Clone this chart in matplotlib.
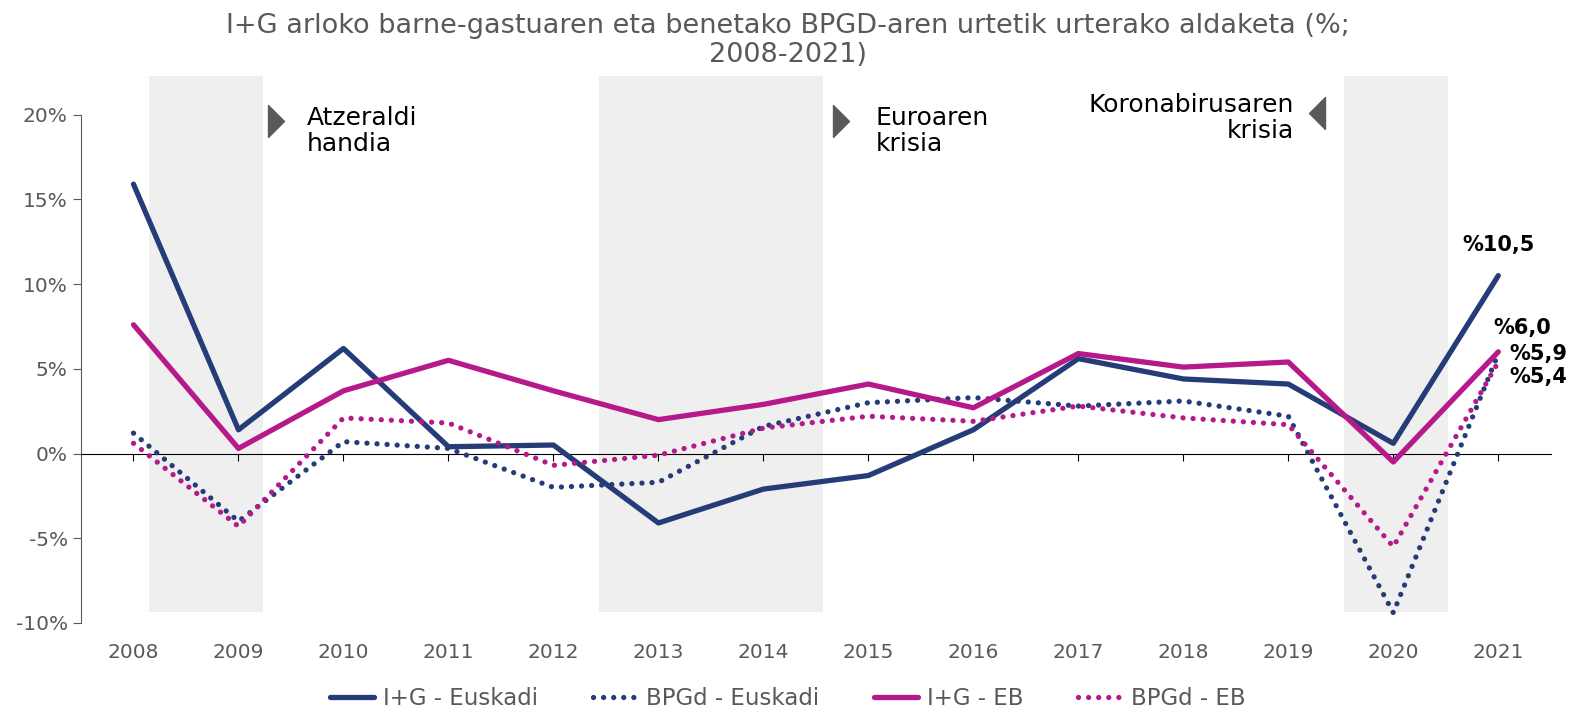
import matplotlib.pyplot as plt
from matplotlib.patches import Rectangle

years = ["2008", "2009", "2010", "2011", "2012", "2013", "2014",
         "2015", "2016", "2017", "2018", "2019", "2020", "2021"]
ig_euskadi = [15.9, 1.4, 6.2, 0.4, 0.5, -4.1, -2.1, -1.3, 1.4, 5.6, 4.4, 4.1, 0.6, 10.5]
bpgd_euskadi = [1.2, -4.0, 0.7, 0.3, -2.0, -1.7, 1.6, 3.0, 3.3, 2.8, 3.1, 2.2, -9.4, 5.9]
ig_eb = [7.6, 0.3, 3.7, 5.5, 3.7, 2.0, 2.9, 4.1, 2.7, 5.9, 5.1, 5.4, -0.5, 6.0]
bpgd_eb = [0.6, -4.3, 2.1, 1.8, -0.7, -0.1, 1.5, 2.2, 1.9, 2.8, 2.1, 1.7, -5.5, 5.4]

# crisis periods (in category positions)
bands = [(0.15, 1.23), (4.43, 6.57), (11.53, 12.52)]

navy = "#253C78"
magenta = "#B5198A"
grey = "#595959"

fig = plt.figure(figsize=(15.76, 7.16), dpi=100)
ax = fig.add_axes([0.0514, 0.130, 0.9326, 0.769])

x = list(range(len(years)))
for x0, x1 in bands:
    ax.add_patch(Rectangle((x0, -9.35), x1 - x0, 9.35 + 22.3, color="#EFEFEF", zorder=0, lw=0))

dots = (0, (0.01, 1.9))
ax.plot(x, ig_euskadi, color=navy, lw=3.8, solid_capstyle="round", label="I+G - Euskadi", zorder=3)
ax.plot(x, bpgd_euskadi, color=navy, lw=3.8, linestyle=dots, dash_capstyle="round", label="BPGd - Euskadi", zorder=3)
ax.plot(x, ig_eb, color=magenta, lw=3.8, solid_capstyle="round", label="I+G - EB", zorder=3)
ax.plot(x, bpgd_eb, color=magenta, lw=3.8, linestyle=dots, dash_capstyle="round", label="BPGd - EB", zorder=3)

ax.set_xlim(-0.5, 13.5)
ax.set_ylim(-10, 22.5)
ax.set_yticks([-10, -5, 0, 5, 10, 15, 20])
ax.set_yticklabels(["-10%", "-5%", "0%", "5%", "10%", "15%", "20%"])
ax.spines["left"].set_bounds(-10, 20)
ax.spines["left"].set_color(grey)
ax.spines["top"].set_visible(False)
ax.spines["right"].set_visible(False)
ax.spines["bottom"].set_position(("data", 0))
ax.spines["bottom"].set_color("black")
ax.set_xticks(x)
ax.set_xticklabels([])
ax.tick_params(axis="x", direction="out", length=5, color="black")
ax.tick_params(axis="y", direction="out", length=6, color=grey, labelcolor=grey, labelsize=14.5)
for xi, yr in zip(x, years):
    ax.text(xi, -11.2, yr, ha="center", va="top", fontsize=14.5, color=grey)

# crisis annotations
right_tri = [(-0.5, -1), (0.5, 0), (-0.5, 1), (-0.5, -1)]
left_tri = [(0.5, -1), (-0.5, 0), (0.5, 1), (0.5, -1)]
ax.plot([1.36], [19.6], marker=right_tri, markersize=23, color=grey, clip_on=False)
ax.text(1.65, 20.5, "Atzeraldi\nhandia", ha="left", va="top", fontsize=18, color="black", linespacing=1.1)
ax.plot([6.74], [19.6], marker=right_tri, markersize=23, color=grey, clip_on=False)
ax.text(7.07, 20.5, "Euroaren\nkrisia", ha="left", va="top", fontsize=18, color="black", linespacing=1.1)
ax.plot([11.27], [20.1], marker=left_tri, markersize=23, color=grey, clip_on=False)
ax.text(11.05, 21.3, "Koronabirusaren\nkrisia", ha="right", va="top", fontsize=18, color="black",
        linespacing=1.1, multialignment="right")

# end labels
ax.text(13.0, 11.7, "%10,5", ha="center", va="bottom", fontsize=15, fontweight="bold")
ax.text(13.5, 7.4, "%6,0", ha="right", va="center", fontsize=15, fontweight="bold")
ax.text(13.66, 5.9, "%5,9", ha="right", va="center", fontsize=15, fontweight="bold")
ax.text(13.66, 4.5, "%5,4", ha="right", va="center", fontsize=15, fontweight="bold")

fig.text(0.5, 0.982, "I+G arloko barne-gastuaren eta benetako BPGD-aren urtetik urterako aldaketa (%;\n2008-2021)",
         ha="center", va="top", fontsize=19.5, color=grey, linespacing=1.15)

leg = fig.legend(loc="lower center", bbox_to_anchor=(0.5, -0.02), ncol=4, frameon=False,
                 handlelength=1.9, handletextpad=0.4, columnspacing=2.4, fontsize=16.5)
for t in leg.get_texts():
    t.set_color(grey)

fig.savefig("out.png", dpi=100)
